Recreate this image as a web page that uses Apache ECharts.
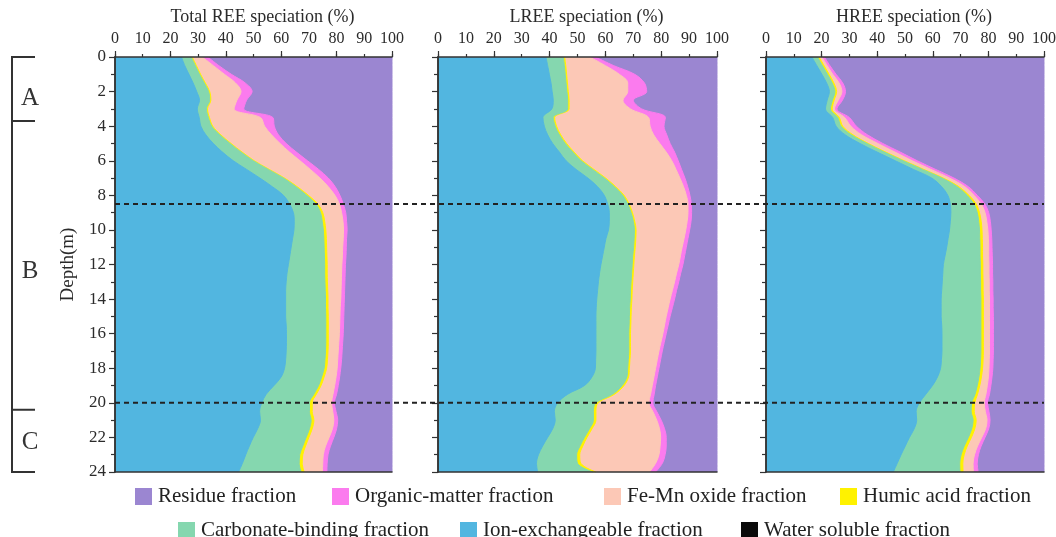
<!DOCTYPE html>
<html>
<head>
<meta charset="utf-8">
<script src="https://cdn.jsdelivr.net/npm/echarts@6.0.0/dist/echarts.min.js"></script>
<style>
html,body{margin:0;padding:0;background:#ffffff;}
#chart{width:1056px;height:537px;}
</style>
</head>
<body>
<div id="chart"></div>
<script>
// ---------------- DATA ----------------
const depths = [0,0.5,1,1.5,2,2.5,3,3.5,4,4.5,5,5.5,6,6.5,7,7.5,8,8.5,9,9.5,10,10.5,11,11.5,12,12.5,13,13.5,14,14.5,15,15.5,16,16.5,17,17.5,18,18.5,19,19.5,20,20.5,21,21.5,22,22.5,23,23.5,24];

const panelTitles = ['Total REE speciation (%)', 'LREE speciation (%)', 'HREE speciation (%)'];
const fractionNames = ['Residue fraction', 'Organic-matter fraction', 'Fe-Mn oxide fraction', 'Humic acid fraction',
                       'Carbonate-binding fraction', 'Ion-exchangeable fraction', 'Water soluble fraction'];
const fractionColors = ['#9b86d1', '#fb7bee', '#fcc8b6', '#fff200', '#85d7af', '#52b6e0', '#0a0a0a'];

const zoneNames = ['A', 'B', 'C'];
const zoneBounds = [0, 3.7, 20.4, 24];
const zoneLabelDepths = [2.4, 12.4, 22.3];
const dashedDepths = [8.5, 20];

// cumulative upper boundary of each fraction (%), per depth
const residueTop = [100,100,100,100,100,100,100,100,100,100,100,100,100,100,100,100,100,100,100,100,100,100,100,100,100,100,100,100,100,100,100,100,100,100,100,100,100,100,100,100,100,100,100,100,100,100,100,100,100];

// Total REE
const totalIon = [24,25.2,26.7,28.2,29.5,30.5,29.7,30.4,31,32.8,
  35.5,38.8,42.7,47.5,52.3,56.8,60.8,63,64.4,64.7,
  64.6,64.1,63.6,63.1,62.6,62.1,61.8,61.6,61.6,61.6,
  61.6,61.8,61.9,61.9,61.8,61.6,61.2,60,57.4,54.6,
  53,52.2,52.5,51.5,49.9,48.5,47.2,46,44.6];
const totalCarb = [27.5,29,30.5,32.2,33.8,34.2,33,33.7,34.9,37.8,
  41.5,45.5,49.9,55.3,60.8,65.3,69.2,72.5,74.2,74.8,
  75.2,75.4,75.5,75.6,75.7,75.7,75.8,75.9,76,76,
  76.1,76.1,76.1,76.1,76,75.8,75.5,74.6,73.5,71.8,
  70.2,70.2,70.8,70.2,69,67.8,66.7,66.5,67.2];
const totalHumic = [27.9,29.4,30.9,32.6,34.2,34.6,33.4,34.1,35.3,38.2,
  41.9,45.9,50.3,55.7,61.2,65.8,69.8,73.2,75,75.7,
  76.1,76.3,76.4,76.5,76.6,76.6,76.7,76.8,76.9,76.9,
  77,77,77,77,76.9,76.7,76.4,75.5,74.4,72.7,
  71.2,71.2,71.8,71.2,70,68.8,67.8,67.6,68.3];
const totalFeMn = [31.5,35.5,39.5,43.5,45.5,44,43,52.5,54,56.5,
  59.6,63,66.8,70.5,74,77,79.4,81,81.8,82.3,
  82.5,82.4,82.2,82.1,81.9,81.8,81.7,81.6,81.5,81.3,
  81.2,81.1,81,80.8,80.6,80.4,80.2,79.8,79.3,78.7,
  78.2,78.6,79,78.5,77.3,76,75.2,75,74.9];
const totalOrganic = [33.5,37.5,42,47,49.5,47.5,46.5,57,57.5,59,
  61.8,65.5,69.5,73.5,77,79.5,81.2,82.4,83.3,83.6,
  83.8,83.6,83.5,83.4,83.2,83.1,83,82.9,82.8,82.7,
  82.6,82.5,82.4,82.2,82,81.8,81.5,81.1,80.6,80,
  79.2,79.8,80.4,80,79,77.8,76.9,76.6,76.5];

// LREE
const lreeIon = [38.7,39.3,39.9,40.5,40.9,41.3,40.8,37.6,38.1,39.3,
  41.1,43.5,45.9,49.5,53.7,57.2,59.6,60.8,61.4,61.4,
  61.1,60.2,59.6,59,58.4,57.9,57.5,57.2,56.9,56.7,
  56.6,56.6,56.6,56.6,56.6,56.5,56.4,55.2,52.5,46.5,
  42.9,41.7,42,41.1,39.3,37.5,36,35.3,35.7];
const lreeCarb = [44.9,45.3,45.6,45.9,46.2,46.5,46.5,41.3,42,43.5,
  45.6,48.3,51.3,55.4,59.6,63.2,66.2,68,69.2,70,
  70.4,70.3,70.1,69.8,69.6,69.4,69.2,69,68.9,68.7,
  68.6,68.5,68.4,68.4,68.4,68.2,68,67.7,66,62.6,
  56.6,55.7,55.7,54.3,52.5,50.9,49.7,50,55.5];
const lreeHumic = [45.4,45.8,46.1,46.4,46.7,47,47,41.8,42.5,44,
  46.1,48.8,51.8,55.9,60.1,63.7,66.7,68.5,69.7,70.5,
  71,70.9,70.7,70.4,70.2,70,69.8,69.6,69.5,69.3,
  69.2,69.1,69,69,69,68.8,68.6,68.3,66.7,63.3,
  57.4,56.6,56.6,55.2,53.4,51.9,50.8,51.2,56.6];
const lreeFeMn = [54.4,60,65,68,68,66.3,69,75.5,76,77.3,
  79.5,81.8,83.8,85.3,86.7,88,89,89.6,89.6,89.3,
  88.8,88.2,87.5,86.9,86.3,85.5,84.8,84,83.2,82.5,
  81.8,81.2,80.6,79.9,79.2,78.6,78,77.4,76.8,76.2,
  75.6,77,78.4,79.4,79.8,79.6,79.2,78,75.8];
const lreeOrganic = [56.5,63,70.5,74,74.8,70,73,81.5,81,82,
  83.2,84.8,86.1,87.3,88.5,89.5,90.3,90.8,90.9,90.7,
  90.2,89.6,89,88.4,87.8,87,86.3,85.5,84.8,84,
  83.2,82.5,81.8,81.1,80.4,79.8,79.2,78.6,78,77.5,
  77,78.4,80,81.2,81.8,81.8,81.4,80.4,78];

// HREE
const hreeIon = [16.5,18.3,20.1,21.8,22.8,22,21.4,24,25.2,28.5,
  33.8,40,46.5,53,59.6,63.2,65.4,66.3,66.5,66.3,
  66,65.5,65,64.4,63.8,63.6,63.4,63.2,63,63,
  63,63.2,63.3,63.3,63.3,63.1,62.8,61.7,59.9,57.5,
  55.2,54,54.2,53.3,51.6,50.1,48.6,47.2,45.8];
const hreeCarb = [18.5,20.3,22.1,23.8,24.8,23.9,23.2,25.8,27,30.7,
  36.3,42.6,49.3,56.3,63.3,68.8,72.3,74.8,76,76.5,
  76.8,76.9,77,77,77.1,77.1,77.2,77.2,77.3,77.3,
  77.3,77.3,77.3,77.3,77.3,77.2,77,76.6,76,75.2,
  74,73.8,74.5,74,72.8,71.3,70.2,69.7,69.8];
const hreeHumic = [19.1,20.9,22.7,24.4,25.4,24.5,23.8,26.4,27.6,31.3,
  36.8,43.1,49.8,56.8,63.8,69.4,73,75.6,76.8,77.4,
  77.7,77.8,77.9,77.9,78,78,78.1,78.1,78.2,78.2,
  78.2,78.2,78.2,78.2,78.2,78.1,77.9,77.5,76.9,76.1,
  75.1,74.9,75.6,75.1,73.9,72.4,71.3,70.8,70.9];
const hreeFeMn = [20.1,22,24,26.3,27.3,26,24.6,28.3,30.5,34.4,
  40.2,46.4,52.6,59.3,66,71.5,74.8,77.4,78.8,79.4,
  79.8,80,80.1,80.1,80.2,80.2,80.3,80.3,80.4,80.4,
  80.4,80.4,80.4,80.4,80.4,80.3,80.2,80,79.6,79.1,
  78.5,78.9,79.5,79,77.6,76.1,75,74.5,74.6];
const hreeOrganic = [21,23,25.2,27.6,28.6,27.5,25.5,30,32.5,36.5,
  42,48.3,54.4,61,67.6,72.8,76,78.7,80.1,80.7,
  81,81.2,81.3,81.4,81.5,81.5,81.6,81.6,81.7,81.7,
  81.8,81.8,81.8,81.8,81.8,81.7,81.6,81.3,80.9,80.4,
  79.7,80.2,80.6,80.1,78.8,77.4,76.4,76,76.3];

// ---------------- CHART ----------------
const FONT = '"Liberation Serif", "Times New Roman", serif';
const AXIS_COLOR = '#333333';
const panels = [
  [residueTop, totalOrganic, totalFeMn, totalHumic, totalCarb, totalIon],
  [residueTop, lreeOrganic, lreeFeMn, lreeHumic, lreeCarb, lreeIon],
  [residueTop, hreeOrganic, hreeFeMn, hreeHumic, hreeCarb, hreeIon]
];
const gridBoxes = [
  {left: 115, width: 277},
  {left: 438, width: 279},
  {left: 766, width: 278}
];
const depthCats = depths.map(String);

const option = {
  animation: false,
  backgroundColor: '#ffffff',
  grid: gridBoxes.map(g => ({left: g.left, width: g.width, top: 57, height: 415, outerBoundsMode: 'none', containLabel: false})),
  xAxis: [],
  yAxis: [],
  series: [],
  legend: []
};

panels.forEach((bounds, i) => {
  const xi = option.xAxis.length;
  option.xAxis.push({
    gridIndex: i, type: 'value', position: 'top', min: 0, max: 100, interval: 10, z: 10,
    name: panelTitles[i], nameLocation: 'middle', nameGap: 28,
    nameTextStyle: {fontFamily: FONT, fontSize: 18, color: '#2b2b2b', padding: [0, 0, 0, 18]},
    axisLine: {show: true, lineStyle: {color: AXIS_COLOR, width: 1.5}},
    axisTick: {show: true, length: 3, lineStyle: {color: AXIS_COLOR, width: 1.2}},
    axisLabel: {fontFamily: FONT, fontSize: 16, color: '#2b2b2b', margin: 10},
    splitLine: {show: false}
  });
  option.xAxis.push({
    gridIndex: i, type: 'value', position: 'top', min: 0, max: 100, interval: 20, z: 10,
    axisLine: {show: false},
    axisTick: {show: true, length: 6, lineStyle: {color: AXIS_COLOR, width: 1.2}},
    axisLabel: {show: false},
    splitLine: {show: false}
  });
  option.xAxis.push({
    gridIndex: i, type: 'value', position: 'bottom', min: 0, max: 100, z: 10,
    axisLine: {show: true, lineStyle: {color: AXIS_COLOR, width: 1.5}},
    axisTick: {show: false}, axisLabel: {show: false}, splitLine: {show: false}
  });

  const yi = option.yAxis.length;
  option.yAxis.push({
    gridIndex: i, type: 'category', data: depthCats, inverse: true, boundaryGap: false, position: 'left', z: 10,
    name: i === 0 ? 'Depth(m)' : '', nameLocation: 'middle', nameRotate: 90, nameGap: 37,
    nameTextStyle: {fontFamily: FONT, fontSize: 19, color: '#2b2b2b'},
    axisLine: {show: true, lineStyle: {color: AXIS_COLOR, width: 1.5}},
    axisTick: {show: true, length: 6, interval: (idx) => depths[idx] % 2 === 0, lineStyle: {color: AXIS_COLOR, width: 1.2}},
    axisLabel: {show: i === 0, interval: (idx) => depths[idx] % 2 === 0, fontFamily: FONT, fontSize: 17, color: '#2b2b2b', margin: 9},
    splitLine: {show: false}
  });
  option.yAxis.push({
    gridIndex: i, type: 'category', data: depthCats, inverse: true, boundaryGap: false, position: 'left', z: 10,
    axisLine: {show: false},
    axisTick: {show: true, length: 4, interval: (idx) => depths[idx] % 2 === 1, lineStyle: {color: AXIS_COLOR, width: 1.2}},
    axisLabel: {show: false}, splitLine: {show: false}
  });
  option.yAxis.push({
    gridIndex: i, type: 'category', data: depthCats, inverse: true, boundaryGap: false, position: 'right', z: 10,
    axisLine: {show: true, lineStyle: {color: AXIS_COLOR, width: 1.5}},
    axisTick: {show: false}, axisLabel: {show: false}, splitLine: {show: false}
  });

  bounds.forEach((b, f) => {
    option.series.push({
      name: fractionNames[f], type: 'line', xAxisIndex: xi, yAxisIndex: yi,
      data: b.map((v, k) => [v, k]),
      smooth: 0.35, symbol: 'none', showSymbol: false, silent: true,
      color: fractionColors[f],
      lineStyle: {width: 1, color: fractionColors[f]},
      areaStyle: {color: fractionColors[f], opacity: 1},
      z: 2
    });
  });
  option.series.push({
    name: fractionNames[6], type: 'line', xAxisIndex: xi, yAxisIndex: yi, data: [],
    symbol: 'none', color: fractionColors[6], lineStyle: {width: 1, color: fractionColors[6]},
    areaStyle: {color: fractionColors[6], opacity: 1}
  });
});

const legendPlaces = [
  {left: 135, top: 486}, {left: 332, top: 486}, {left: 604, top: 486}, {left: 840, top: 486},
  {left: 178, top: 520}, {left: 460, top: 520}, {left: 741, top: 520}
];
const legendOrder = [0, 1, 2, 3, 4, 5, 6];
legendOrder.forEach((f, j) => {
  option.legend.push({
    data: [{name: fractionNames[f], icon: 'rect', itemStyle: {color: fractionColors[f], borderWidth: 0}}],
    left: legendPlaces[j].left, top: legendPlaces[j].top, orient: 'horizontal',
    itemWidth: 17, itemHeight: 17, itemGap: 0, padding: 0, selectedMode: false,
    textStyle: {fontFamily: FONT, fontSize: 21, color: '#222222', padding: [0, 0, 0, 1]}
  });
});

const chart = echarts.init(document.getElementById('chart'), null, {renderer: 'canvas'});
chart.setOption(option);

// annotations: zone bracket, zone letters and dashed boundaries
const yTop = chart.convertToPixel({xAxisIndex: 0, yAxisIndex: 0}, [0, 0])[1];
const yBot = chart.convertToPixel({xAxisIndex: 0, yAxisIndex: 0}, [0, depths.length - 1])[1];
const dMax = depths[depths.length - 1];
const yPix = d => yTop + (yBot - yTop) * d / dMax;
const xLeft = chart.convertToPixel({xAxisIndex: 0, yAxisIndex: 0}, [0, 0])[0];
const xRight = chart.convertToPixel({xAxisIndex: 6, yAxisIndex: 6}, [100, 0])[0];

const graphics = [];
graphics.push({type: 'line', z: 100, shape: {x1: 12, y1: yPix(zoneBounds[0]), x2: 12, y2: yPix(zoneBounds[zoneBounds.length - 1])},
  style: {stroke: '#333', lineWidth: 2}});
zoneBounds.forEach(d => {
  graphics.push({type: 'line', z: 100, shape: {x1: 11, y1: yPix(d), x2: 35, y2: yPix(d)}, style: {stroke: '#333', lineWidth: 2}});
});
zoneNames.forEach((n, k) => {
  graphics.push({type: 'text', z: 100, x: 30, y: yPix(zoneLabelDepths[k]),
    style: {text: n, fontFamily: 'Liberation Serif', fontSize: 25, fill: '#333', align: 'center', verticalAlign: 'middle'}});
});
dashedDepths.forEach(d => {
  graphics.push({type: 'line', z: 100, shape: {x1: xLeft, y1: yPix(d), x2: xRight, y2: yPix(d)},
    style: {stroke: '#222', lineWidth: 2, lineDash: [5, 4]}});
});
chart.setOption({graphic: graphics});
</script>
</body>
</html>
